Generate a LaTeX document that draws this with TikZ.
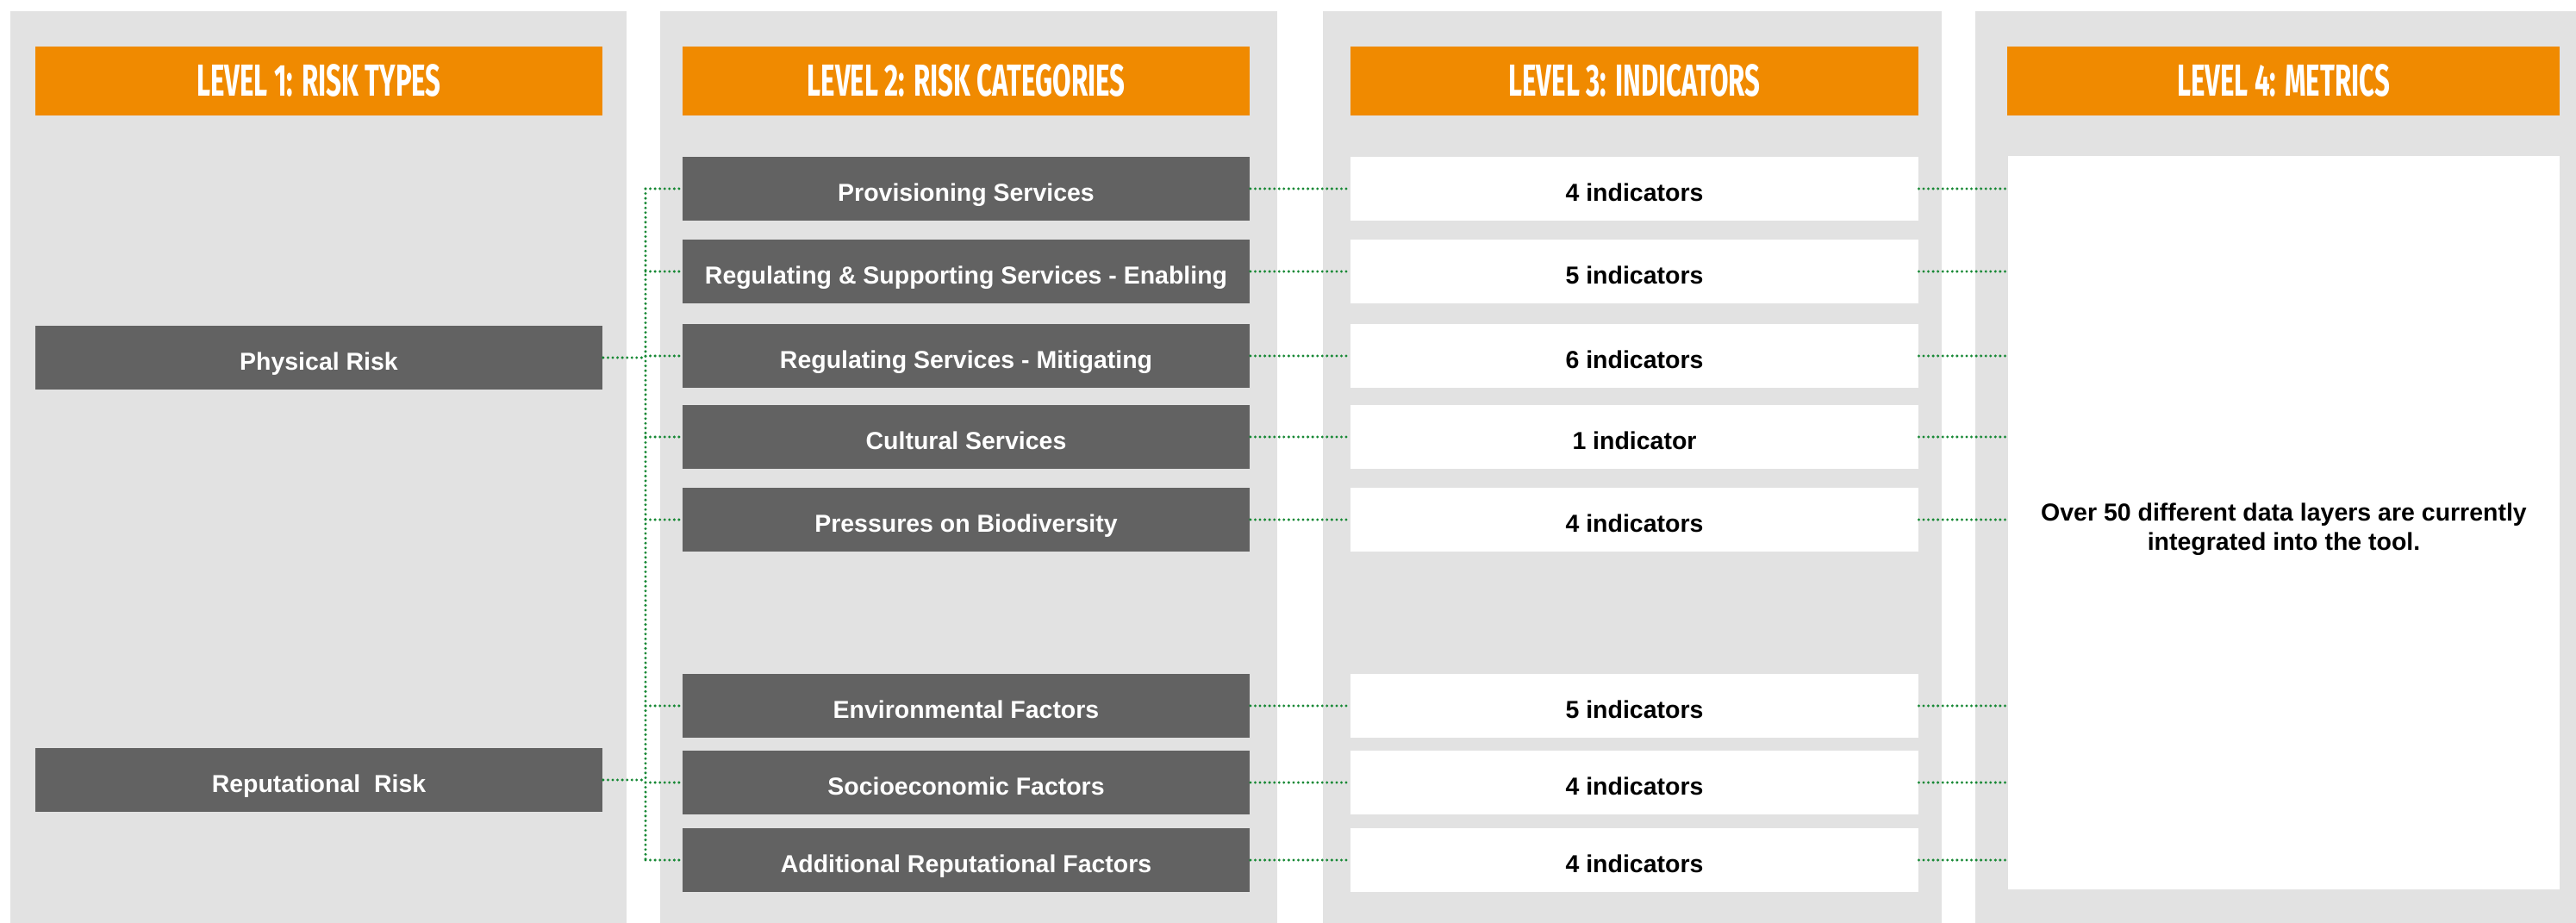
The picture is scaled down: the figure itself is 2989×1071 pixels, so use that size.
\documentclass[tikz,border=0pt]{standalone}
\usepackage{fontspec}
\setmainfont{Liberation Sans}
\newfontfamily\headfont[FakeStretch=0.6]{Fira Sans}

\definecolor{panelgray}{RGB}{226,226,226}
\definecolor{headorange}{RGB}{240,138,0}
\definecolor{boxgray}{RGB}{98,98,98}
\definecolor{linkgreen}{RGB}{22,136,52}

\tikzset{
  panel/.style={fill=panelgray, draw=none},
  headbox/.style={fill=headorange, text=white, draw=none, inner sep=0pt,
    minimum width=6.58cm, minimum height=0.8cm,
    text height=10.2pt, text depth=0pt,
    font=\headfont\bfseries\fontsize{14.8}{16}\selectfont},
  catbox/.style={fill=boxgray, text=white, draw=none, inner sep=0pt,
    minimum width=6.58cm, minimum height=0.74cm,
    text height=8pt, text depth=0pt,
    font=\bfseries\fontsize{8.1}{9.7}\selectfont},
  indbox/.style={catbox, fill=white, text=black},
  metricbox/.style={fill=white, text=black, draw=none, inner sep=0pt,
    minimum width=6.4cm, minimum height=8.51cm, align=center,
    font=\bfseries\fontsize{8.1}{9.67}\selectfont},
  link/.style={draw=linkgreen, line width=0.95pt, line cap=round,
    dash pattern=on 0pt off 1.58pt},
}

\begin{document}
\begin{tikzpicture}[x=0.01cm, y=-0.01cm]
  \useasboundingbox (0,0) rectangle (2989,1071);

  % column panels
  \fill[panel] (12,13) rectangle (727,1071);
  \fill[panel] (766,13) rectangle (1482,1071);
  \fill[panel] (1535,13) rectangle (2253,1071);
  \fill[panel] (2292,13) rectangle (2989,1071);

  % column headers
  \node[headbox] (h1) at (370,94) {LEVEL 1: RISK TYPES};
  \node[headbox] (h2) at (1121,94) {LEVEL 2: RISK CATEGORIES};
  \node[headbox] (h3) at (1896.5,94) {LEVEL 3: INDICATORS};
  \node[headbox, minimum width=6.41cm] (h4) at (2649.5,94) {LEVEL 4: METRICS};

  % level 1: risk types
  \node[catbox] (phys) at (370,415) {Physical Risk};
  \node[catbox] (repu) at (370,905) {Reputational\ \ Risk};

  % level 2: risk categories
  \node[catbox] (c1) at (1121,219) {Provisioning Services};
  \node[catbox] (c2) at (1121,315) {Regulating \& Supporting Services - Enabling};
  \node[catbox] (c3) at (1121,413) {Regulating Services - Mitigating};
  \node[catbox] (c4) at (1121,507) {Cultural Services};
  \node[catbox] (c5) at (1121,603) {Pressures on Biodiversity};
  \node[catbox] (c6) at (1121,819) {Environmental Factors};
  \node[catbox] (c7) at (1121,908) {Socioeconomic Factors};
  \node[catbox] (c8) at (1121,998) {Additional Reputational Factors};

  % level 3: indicators
  \node[indbox] (i1) at (1896.5,219) {4 indicators};
  \node[indbox] (i2) at (1896.5,315) {5 indicators};
  \node[indbox] (i3) at (1896.5,413) {6 indicators};
  \node[indbox] (i4) at (1896.5,507) {1 indicator};
  \node[indbox] (i5) at (1896.5,603) {4 indicators};
  \node[indbox] (i6) at (1896.5,819) {5 indicators};
  \node[indbox] (i7) at (1896.5,908) {4 indicators};
  \node[indbox] (i8) at (1896.5,998) {4 indicators};

  % level 4: metrics (strut lowers the two-line text slightly)
  \node[metricbox] (m) at (2650,606.5)
    {\rule{0pt}{10.5pt}Over 50 different data layers are currently\\integrated into the tool.};

  % bus between level 1 and level 2
  \coordinate (bustop) at (749,219);
  \coordinate (busbot) at (749,998);
  \draw[link] (bustop) -- (busbot);
  \draw[link] (phys.east) -- (phys.east -| bustop);
  \draw[link] (repu.east) -- (repu.east -| bustop);
  \foreach \c in {c1,c2,c3,c4,c5,c6,c7,c8}
    \draw[link] (\c.west -| bustop) -- (\c.west);

  % level 2 to level 3, level 3 to level 4
  \foreach \n in {1,...,8} {
    \draw[link] (c\n.east) -- (i\n.west);
    \draw[link] (i\n.east) -- (i\n.east -| m.west);
  }
\end{tikzpicture}
\end{document}
